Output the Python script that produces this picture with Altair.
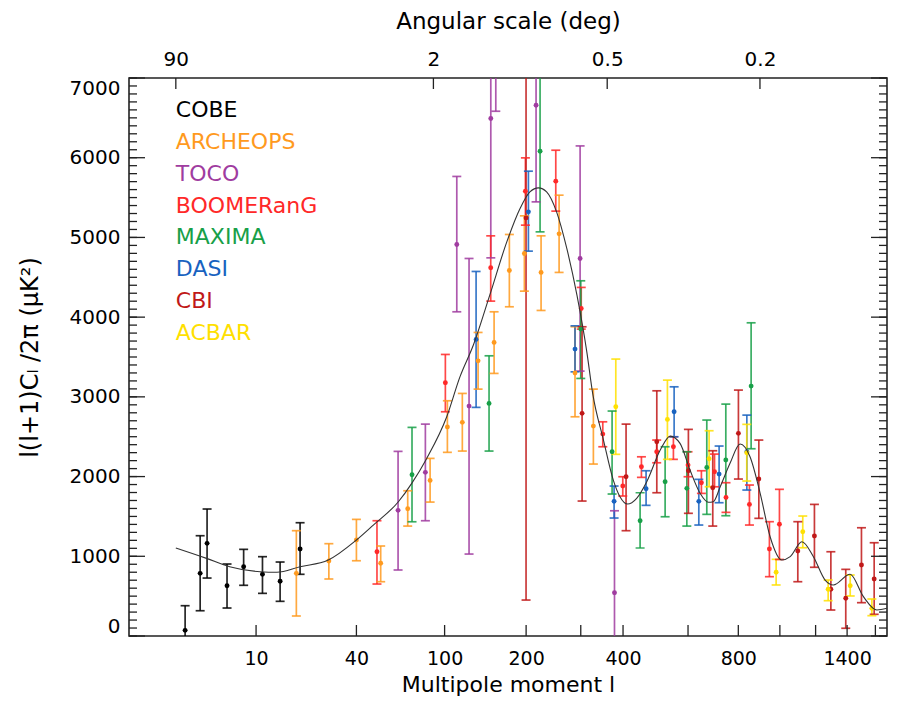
import altair as alt
import pandas as pd

FONT = "DejaVu Sans"

# ---------------- experiments ----------------
names = ["COBE", "ARCHEOPS", "TOCO", "BOOMERanG", "MAXIMA", "DASI", "CBI", "ACBAR"]
colors = ["#000000", "#FF9A1E", "#A03CA0", "#FF2828", "#18A048", "#1862C0", "#C01818", "#FFE000"]

cobe_l = [2.5, 3.5, 4.05, 6.0, 8.1, 11.1, 14.6, 19.5]
cobe_v = [71, 786, 1162, 631, 869, 774, 686, 1091]
cobe_hi = [380, 1258, 1593, 903, 1087, 995, 928, 1421]
cobe_lo = [-300, 317, 727, 351, 636, 535, 435, 774]

arch_l = [18.5, 28.6, 40, 52.6, 69.9, 87.2, 102.6, 117.5, 134.9, 154.5, 175.1, 197.3, 224.4, 256.7, 288, 327.6]
arch_v = [786, 941, 1204, 912, 1597, 1952, 2621, 2680, 3452, 3683, 4586, 4799, 4561, 5045, 3300, 2633]
arch_hi = [1321, 1158, 1463, 1129, 1822, 2228, 2951, 3043, 3808, 4067, 5037, 5271, 5020, 5530, 3880, 3097]
arch_lo = [251, 715, 944, 681, 1379, 1680, 2304, 2320, 3097, 3294, 4130, 4326, 4084, 4561, 2750, 2157]

toco_l = [63.3, 83.3, 111.8, 124.7, 150.3, 156.7, 216, 298.6, 378]
toco_v = [1576, 2053, 4912, 2884, 6492, 7700, 6659, 4736, 543]
toco_hi = [2316, 2658, 5765, 4736, 8200, 8800, 7600, 6148, 1571]
toco_lo = [828, 1446, 4067, 1028, 4744, 6583, 5446, 3323, -500]

boom_l = [50.5, 100.7, 150.2, 198.9, 250.5, 301, 349.4, 399.3, 450.5, 496, 549.6, 600, 649, 700, 747, 850.3, 946.5, 997.7]
boom_v = [1057, 3177, 4619, 5580, 5706, 4109, 2533, 1881, 2123, 2311, 2374, 2144, 1923, 2060, 1739, 1651, 1091, 1401]
boom_hi = [1446, 3532, 5020, 5998, 6094, 4373, 2687, 1998, 2248, 2458, 2499, 2311, 2073, 2282, 1923, 1894, 1434, 1840]
boom_lo = [652, 2813, 4201, 5154, 5330, 3850, 2374, 1756, 1990, 2173, 2216, 1998, 1789, 1872, 1551, 1392, 744, 960]

maxi_l = [73, 148.1, 222.7, 300, 372, 446.7, 522.5, 595.7, 669.6, 746.2, 858.1]
maxi_v = [2023, 2918, 6082, 3850, 2311, 1446, 1935, 1852, 2115, 2207, 3135]
maxi_hi = [2617, 3515, 7100, 4456, 2822, 1797, 2374, 2311, 2709, 2909, 3929]
maxi_lo = [1433, 2320, 5070, 3231, 1781, 1104, 1496, 1379, 1526, 1509, 2349]

dasi_l = [132.6, 203.6, 288, 377, 464, 552, 639.3, 718.5, 838.3]
dasi_v = [3721, 5321, 3599, 1689, 1847, 2813, 1689, 2031, 2311]
dasi_hi = [4573, 5831, 3891, 1881, 2073, 3126, 1965, 2383, 2771]
dasi_lo = [2868, 4828, 3314, 1480, 1639, 2499, 1392, 1672, 1831]

cbi_l = [199.9, 302.8, 408, 496.3, 601.3, 693, 800.5, 894.5, 1097, 1193, 1294, 1391, 1499, 1591]
cbi_v = [5245, 2793, 1998, 2437, 2073, 1860, 2542, 1969, 1066, 1254, 586, 473, 890, 715]
cbi_hi = [8000, 3879, 2658, 3076, 2592, 2324, 3085, 2458, 1434, 1651, 1057, 836, 1358, 1170]
cbi_lo = [451, 1693, 1321, 1797, 1539, 1379, 1969, 1476, 681, 862, 326, 97, 418, 272]

acbar_l = [381.3, 529.9, 678.6, 838, 980.6, 1125, 1277, 1421, 1574]
acbar_v = [2876, 2717, 2224, 2299, 799, 1308, 586, 631, 347]
acbar_hi = [3474, 3210, 2575, 2655, 962, 1505, 702, 765, 464]
acbar_lo = [2279, 2216, 1872, 1944, 640, 1107, 443, 502, 255]

# ---------------- model curve ----------------
th_l = [2, 4, 6.3, 10.7, 13.9, 19.5, 28.4, 40, 48.5, 63.5, 72.8, 84.4, 102, 115, 129.5, 149, 171.5,
        190.7, 206, 220, 234, 252, 271.5, 292, 313, 326, 351, 375, 392, 412, 437, 466, 507, 539, 572,
        607, 644, 676, 695, 723, 764, 808, 853, 901, 950, 1010, 1055, 1120, 1187, 1258, 1310, 1420,
        1513, 1611, 1687]
th_v = [1104, 974, 869, 806, 799, 869, 953, 1204, 1392, 1684, 1915, 2228, 2750, 3250, 3650, 4276, 4944,
        5363, 5572, 5622, 5572, 5321, 4862, 4276, 3565, 3043, 2458, 1956, 1747, 1655, 1727, 1935, 2332,
        2508, 2416, 2082, 1790, 1677, 1684, 1872, 2166, 2408, 2248, 1790, 1245, 953, 995, 1182, 995, 702,
        640, 774, 493, 326, 347]

# ---------------- axes ----------------
x_label_vals = [10, 40, 100, 200, 400, 800, 1400]
x_tick_vals = [10, 40, 100, 200, 300, 400, 600, 800, 1000, 1200, 1400, 1600]
top_tick_vals = [2, 90, 360, 900]   # multipoles of 90, 2, 0.5, 0.2 deg
y_label_vals = list(range(0, 7001, 1000))
y_minor_vals = list(range(0, 7001, 100))

W, H = 758, 558

series = {
    "COBE": (cobe_l, cobe_v, cobe_lo, cobe_hi),
    "ARCHEOPS": (arch_l, arch_v, arch_lo, arch_hi),
    "TOCO": (toco_l, toco_v, toco_lo, toco_hi),
    "BOOMERanG": (boom_l, boom_v, boom_lo, boom_hi),
    "MAXIMA": (maxi_l, maxi_v, maxi_lo, maxi_hi),
    "DASI": (dasi_l, dasi_v, dasi_lo, dasi_hi),
    "CBI": (cbi_l, cbi_v, cbi_lo, cbi_hi),
    "ACBAR": (acbar_l, acbar_v, acbar_lo, acbar_hi),
}
rows = []
for order, name in enumerate(names):
    ls, vs, los, his = series[name]
    for l, v, lo, hi in zip(ls, vs, los, his):
        rows.append({"exp": name, "order": order, "l": l, "v": v, "lo": lo, "hi": hi})
df = pd.DataFrame(rows)
theory = pd.DataFrame({"l": th_l, "v": th_v})
legend_df = pd.DataFrame({"exp": names, "l": [2.0] * len(names),
                          "v": [6600 - 400 * i for i in range(len(names))]})

xs = alt.Scale(type="pow", exponent=0.25, domain=[0.511, 1688], nice=False, zero=False)
ys = alt.Scale(domain=[0, 7000], nice=False, zero=False)
col = alt.Color("exp:N", scale=alt.Scale(domain=names, range=colors), legend=None)

bottom_axis = alt.Axis(orient="bottom", values=x_label_vals, format="d", ticks=False, tickSize=0,
                       domain=False, grid=False, labelFontSize=19, labelPadding=13, labelFlush=False,
                       title="Multipole moment l", titleFontSize=22, titleFontWeight="normal",
                       titleY=55, titleBaseline="alphabetic")
left_axis = alt.Axis(orient="left", values=y_label_vals, format="d", ticks=False, tickSize=0,
                     domain=False, grid=False, labelFontSize=20, labelPadding=9, labelFlush=True,
                     title="l(l+1)Cₗ /2π (μK²)", titleFontSize=24, titleFontWeight="normal",
                     titleAngle=270, titleX=-99, titleY=H / 2, titleAlign="center",
                     titleBaseline="middle")
top_axis = alt.Axis(orient="top", values=top_tick_vals, labelExpr="180/datum.value + ''",
                    ticks=False, tickSize=0, domain=False, grid=False, labelFontSize=20,
                    labelPadding=9, labelFlush=False, title="Angular scale (deg)", titleFontSize=23,
                    titleFontWeight="normal", titleY=-50, titleBaseline="alphabetic")

tick_col = "#222222"
ymin_df = pd.DataFrame({"t": y_minor_vals})
ymaj_df = pd.DataFrame({"t": y_label_vals})
xt_df = pd.DataFrame({"t": x_tick_vals})
top_df = pd.DataFrame({"t": top_tick_vals})

def yrule(d, x0, x1, axis=None):
    return alt.Chart(d).mark_rule(color=tick_col, strokeWidth=1.3).encode(
        y=alt.Y("t:Q", scale=ys, axis=axis), x=alt.value(x0), x2=alt.value(x1))

left_minor = yrule(ymin_df, 0, 8)
left_major = yrule(ymaj_df, 0, 16, axis=left_axis)
right_minor = yrule(ymin_df, W, W - 8)
right_major = yrule(ymaj_df, W, W - 16)

bottom_ticks = alt.Chart(xt_df).mark_rule(color=tick_col, strokeWidth=1.3).encode(
    x=alt.X("t:Q", scale=xs, axis=None), y=alt.value(H), y2=alt.value(H - 11))
top_ticks = alt.Chart(top_df).mark_rule(color=tick_col, strokeWidth=1.3).encode(
    x=alt.X("t:Q", scale=xs, axis=top_axis), y=alt.value(0), y2=alt.value(11))

base = alt.Chart(df)
bars = base.mark_rule(strokeWidth=1.7, opacity=0.85, clip=True).encode(
    x=alt.X("l:Q", scale=xs, axis=bottom_axis),
    y=alt.Y("lo:Q", scale=ys, axis=None),
    y2="hi:Q", color=col, order="order:Q")
cap_hi = base.mark_tick(orient="horizontal", size=9, thickness=1.7, opacity=0.85, clip=True).encode(
    x=alt.X("l:Q", scale=xs, axis=None), y=alt.Y("hi:Q", scale=ys, axis=None), color=col)
cap_lo = base.mark_tick(orient="horizontal", size=9, thickness=1.7, opacity=0.85, clip=True).encode(
    x=alt.X("l:Q", scale=xs, axis=None), y=alt.Y("lo:Q", scale=ys, axis=None), color=col)
pts = base.mark_circle(size=24, opacity=1, clip=True).encode(
    x=alt.X("l:Q", scale=xs, axis=None), y=alt.Y("v:Q", scale=ys, axis=None), color=col)

curve = alt.Chart(theory).mark_line(color="#333333", strokeWidth=1.1, interpolate="monotone",
                                    clip=True).encode(
    x=alt.X("l:Q", scale=xs, axis=None), y=alt.Y("v:Q", scale=ys, axis=None))

legend = alt.Chart(legend_df).mark_text(align="left", baseline="middle", fontSize=22,
                                        font=FONT).encode(
    x=alt.X("l:Q", scale=xs, axis=None), y=alt.Y("v:Q", scale=ys, axis=None),
    text="exp:N", color=col)

chart = alt.layer(
    bars, cap_hi, cap_lo, pts, curve, legend,
    left_minor, left_major, right_minor, right_major, bottom_ticks, top_ticks,
).resolve_axis(x="independent", y="independent").properties(
    width=W, height=H,
    padding={"left": 121, "top": 70, "right": 10, "bottom": 61},
    autosize=alt.AutoSizeParams(type="none"),
    background="white",
).configure_view(stroke="#222222", strokeWidth=1.6).configure_axis(
    labelFont=FONT, titleFont=FONT, labelColor="black", titleColor="black")

chart.save("out.html", embed_options={"renderer": "svg", "actions": False})
